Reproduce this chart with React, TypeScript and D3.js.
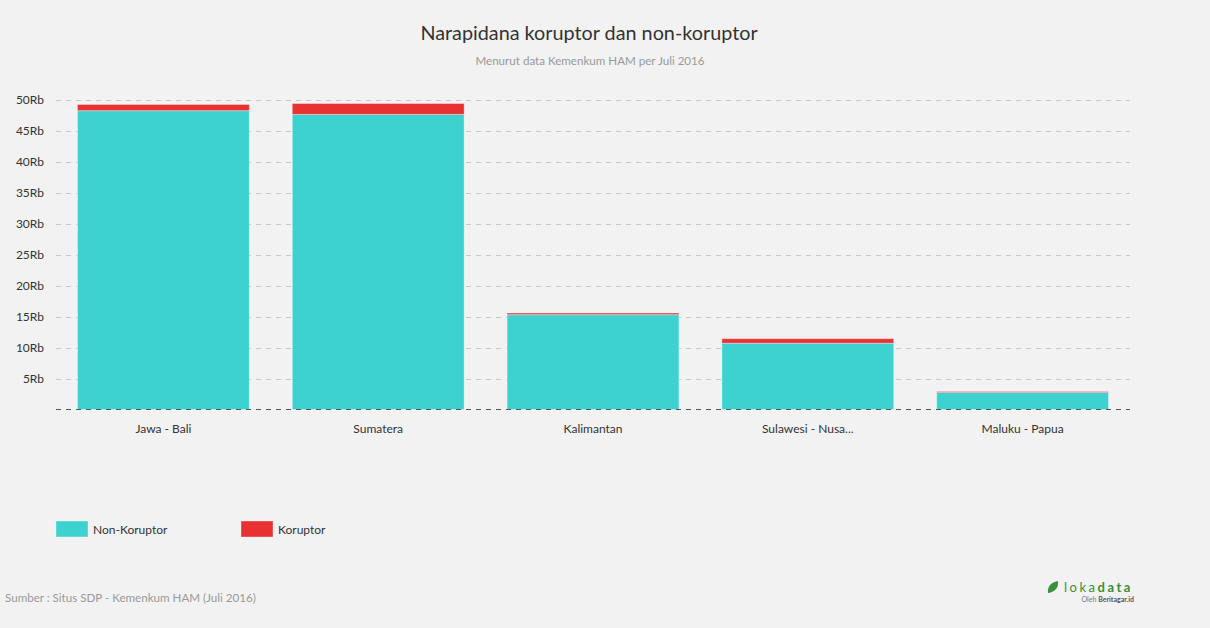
import { useEffect, useRef } from "react";
import * as d3 from "d3";

const regions = ["Jawa - Bali", "Sumatera", "Kalimantan", "Sulawesi - Nusa...", "Maluku - Papua"];
const nonKoruptor = [48200, 47600, 15300, 10700, 2750];
const koruptor = [1000, 1750, 260, 720, 150];
const yTicks = [5000, 10000, 15000, 20000, 25000, 30000, 35000, 40000, 45000, 50000];
const seriesNames = ["Non-Koruptor", "Koruptor"];
const seriesColors = ["#3dd2cf", "#e83232"];

export default function App() {
  const ref = useRef<SVGSVGElement>(null);

  useEffect(() => {
    if (!ref.current) return;
    const svg = d3.select(ref.current);
    svg.selectAll("*").remove();

    const width = 1210;
    const height = 628;
    const left = 56;
    const right = 1130;
    const top = 99.5;
    const bottom = 409.5;
    const font = "Lato, 'Open Sans', sans-serif";

    svg.attr("width", width).attr("height", height)
      .style("display", "block").style("position", "absolute").style("left", "0px").style("top", "0px")
      .style("font-family", font);

    svg.append("rect").attr("width", width).attr("height", height).attr("fill", "#f2f2f2");

    svg.append("text").attr("x", 589).attr("y", 40).attr("text-anchor", "middle")
      .attr("font-size", 19.8).attr("fill", "#333").text("Narapidana koruptor dan non-koruptor");
    svg.append("text").attr("x", 590).attr("y", 65).attr("text-anchor", "middle")
      .attr("font-size", 11.6).attr("fill", "#999").text("Menurut data Kemenkum HAM per Juli 2016");

    const x = d3.scaleBand().domain(regions).range([left, right]).paddingInner(0.2).paddingOuter(0.1);
    const y = d3.scaleLinear().domain([0, 50000]).range([bottom, top]);

    // gridlines
    const grid = svg.append("g");
    grid.selectAll("line").data(yTicks).join("line")
      .attr("x1", left).attr("x2", right)
      .attr("y1", d => Math.round(y(d)) + 0.5).attr("y2", d => Math.round(y(d)) + 0.5)
      .attr("stroke", "#c8c8c8").attr("stroke-dasharray", "5,5");

    // y labels
    svg.append("g").selectAll("text").data(yTicks).join("text")
      .attr("x", 44).attr("y", d => y(d) + 4).attr("text-anchor", "end")
      .attr("font-size", 12).attr("fill", "#333")
      .text(d => `${d / 1000}Rb`);

    const stacked = regions.map((r, i) => ({ r, n: nonKoruptor[i], k: koruptor[i] }));

    const bars = svg.append("g");
    bars.selectAll("rect.n").data(stacked).join("rect").attr("class", "n")
      .attr("x", d => x(d.r)!).attr("width", x.bandwidth())
      .attr("y", d => y(d.n)).attr("height", d => y(0) - y(d.n))
      .attr("fill", seriesColors[0]).attr("stroke", "rgba(255,255,255,0.35)").attr("stroke-width", 1);
    bars.selectAll("rect.k").data(stacked).join("rect").attr("class", "k")
      .attr("x", d => x(d.r)!).attr("width", x.bandwidth())
      .attr("y", d => y(d.n + d.k)).attr("height", d => y(d.n) - y(d.n + d.k))
      .attr("fill", seriesColors[1]).attr("stroke", "rgba(255,255,255,0.35)").attr("stroke-width", 1);

    // baseline
    svg.append("line").attr("x1", left).attr("x2", right)
      .attr("y1", bottom).attr("y2", bottom)
      .attr("stroke", "#555").attr("stroke-dasharray", "5,5");

    // x labels
    svg.append("g").selectAll("text").data(regions).join("text")
      .attr("x", d => x(d)! + x.bandwidth() / 2).attr("y", 433).attr("text-anchor", "middle")
      .attr("font-size", 12).attr("fill", "#333").text(d => d);

    // legend
    const legend = svg.append("g").selectAll("g").data(seriesNames).join("g")
      .attr("transform", (_, i) => `translate(${56 + i * 185},521)`);
    legend.append("rect").attr("width", 32).attr("height", 16)
      .attr("fill", (_, i) => seriesColors[i]).attr("stroke", "rgba(255,255,255,0.35)");
    legend.append("text").attr("x", 37).attr("y", 13).attr("font-size", 12).attr("fill", "#333")
      .text(d => d);

    // footer
    svg.append("text").attr("x", 5).attr("y", 602).attr("font-size", 11.6).attr("fill", "#999")
      .text("Sumber : Situs SDP - Kemenkum HAM (Juli 2016)");

    // logo
    const logo = svg.append("g").attr("transform", "translate(1047,581)");
    logo.append("path").attr("d", "M1,12 Q0,2 11,0 Q12,10 1,12 Z").attr("fill", "#3a8f3a");
    logo.append("text").attr("x", 17).attr("y", 11).attr("font-size", 13).attr("fill", "#3a8f3a")
      .attr("letter-spacing", 2.5).text("loka")
      .append("tspan").attr("font-weight", "bold").text("data");
    logo.append("text").attr("x", 87).attr("y", 21).attr("text-anchor", "end").attr("font-size", 7)
      .attr("fill", "#777").text("Oleh ")
      .append("tspan").attr("font-weight", "bold").attr("fill", "#555").text("Beritagar.id");
  }, []);

  return <svg ref={ref}></svg>;
}
